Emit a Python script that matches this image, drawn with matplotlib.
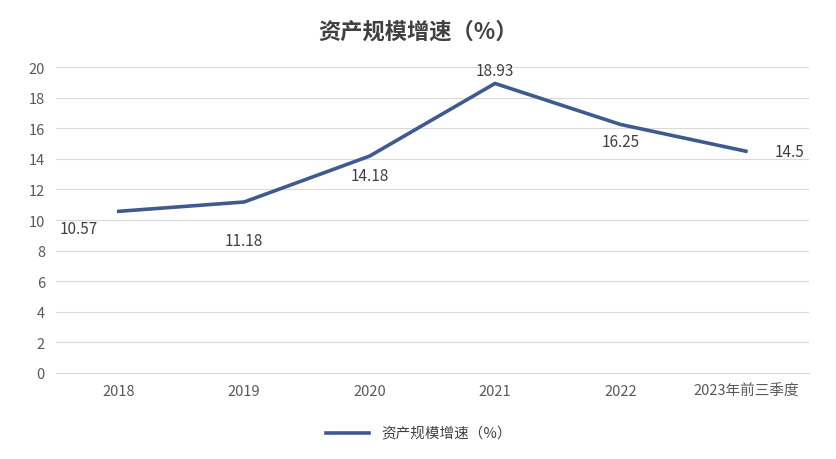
import matplotlib
matplotlib.use("Agg")
import matplotlib.pyplot as plt

plt.rcParams['font.family'] = ['Noto Sans CJK SC', 'DejaVu Sans']

categories = ["2018", "2019", "2020", "2021", "2022", "2023年前三季度"]
values = [10.57, 11.18, 14.18, 18.93, 16.25, 14.5]
labels = ["10.57", "11.18", "14.18", "18.93", "16.25", "14.5"]
series_name = "资产规模增速（%）"

fig = plt.figure(figsize=(8.37, 4.6), dpi=100)
ax = fig.add_axes([0.067, 0.187, 0.899, 0.665])
x = list(range(len(categories)))
color = "#3F5A8F"
ax.plot(x, values, color=color, lw=2.6, label=series_name)
ax.set_xlim(-0.5, len(categories) - 0.5)
ax.set_ylim(0, 20)
ax.set_yticks(range(0, 21, 2))
ax.set_xticks(x)
ax.set_xticklabels(categories)
ax.grid(axis='y', color='#D9D9D9', lw=0.8)
ax.set_axisbelow(True)
for s in ['top', 'right', 'left']:
    ax.spines[s].set_visible(False)
ax.spines['bottom'].set_color('#D9D9D9')
ax.tick_params(length=0, labelsize=10.5, colors='#595959', pad=8)

offsets = [(-0.32, -1.15), (0, -2.55), (0, -1.25), (0, 0.85), (0, -1.1), (0.35, 0)]
for i, (v, l) in enumerate(zip(values, labels)):
    dx, dy = offsets[i]
    ax.text(i + dx, v + dy, l, ha='center', va='center', fontsize=11, color='#404040')

fig.text(0.5, 0.93, "资产规模增速（%）", ha='center', va='center', fontsize=16,
         fontweight='bold', color='#404040')
fig.legend(loc='center', bbox_to_anchor=(0.5, 0.055), frameon=False, fontsize=10.5,
           handlelength=3, labelcolor='#404040')
fig.savefig("out.png", dpi=100, facecolor='white')
